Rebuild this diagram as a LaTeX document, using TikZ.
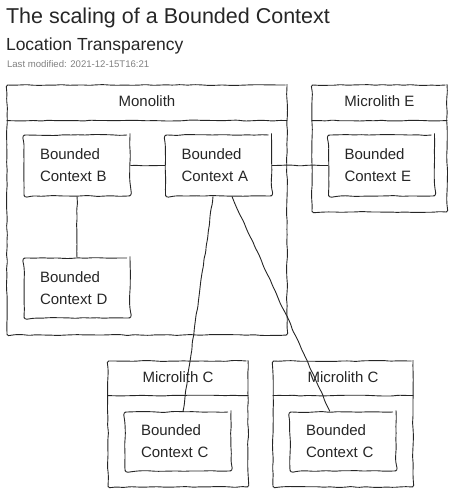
\documentclass[tikz,border=0pt]{standalone}
\usepackage{fontspec}
\setmainfont{Liberation Sans}
\usetikzlibrary{positioning}
\usetikzlibrary{decorations.pathmorphing}
\usetikzlibrary{calc}
\definecolor{ink}{HTML}{262626}
\tikzset{
  sketch/.style={draw=ink,line width=0.9pt,decorate,
    decoration={random steps,segment length=7pt,amplitude=0.5pt},rounded corners=1.5pt},
  pkg/.style={sketch,inner sep=0pt},
  bc/.style={sketch,minimum width=106pt,minimum height=61pt,align=left,
    text width=74pt,inner xsep=16pt,
    font=\fontsize{15}{22}\selectfont,text=ink,rounded corners=3pt},
  pkgtitle/.style={font=\fontsize{15}{18}\selectfont,text=ink}
}
\begin{document}
\begin{tikzpicture}[x=1pt,y=-1pt]
\useasboundingbox (0,0) rectangle (456,493);
\pgfmathsetseed{11}
% title block
\node[anchor=west,font=\fontsize{21.5}{24}\selectfont,text=ink] (title) at (2.5,18) {The scaling of a Bounded Context};
\node[anchor=west,font=\fontsize{17.5}{20}\selectfont,text=ink] (subtitle) at (2.5,46) {Location Transparency};
\node[anchor=west,font=\fontsize{9.6}{11}\selectfont,text=gray] (modified) at (3.5,64) {Last modified: 2021-12-15T16:21};
% containers
\node[pkg,minimum width=280pt,minimum height=250pt] (mono) at (147,210) {};
\node[pkg,minimum width=135pt,minimum height=127pt] (microE) at (379.5,148.5) {};
\node[pkg,minimum width=140pt,minimum height=126pt] (microCl) at (178,424) {};
\node[pkg,minimum width=140pt,minimum height=126pt] (microCr) at (343,424) {};
\foreach \p/\t/\d in {mono/Monolith/36,microE/Microlith E/36,microCl/Microlith C/35,microCr/Microlith C/35}{
  \node[pkgtitle] (\p T) at ([yshift=-17pt]\p.north) {\t};
  \draw[sketch] ([yshift=-\d pt]\p.north west) -- ([yshift=-\d pt]\p.north east);
}
% bounded contexts
\node[bc] (bcB) at (77,165.5) {Bounded\\Context B};
\node[bc] (bcA) at (218.5,165.5) {Bounded\\Context A};
\node[bc] (bcE) at (381.5,165.5) {Bounded\\Context E};
\node[bc,minimum height=60pt] (bcD) at (77,288) {Bounded\\Context D};
\node[bc,minimum height=59pt] (bcCl) at (178,441.5) {Bounded\\Context C};
\node[bc,minimum height=59pt] (bcCr) at (343,441.5) {Bounded\\Context C};
% connectors
\draw[sketch] (bcB) -- (bcA);
\draw[sketch] (bcA) -- (bcE);
\draw[sketch] (bcB) -- (bcD);
\draw[sketch] ([xshift=-5.5pt]bcA.south) -- ([xshift=5pt]bcCl.north);
\draw[sketch] ([xshift=13.5pt]bcA.south) -- ([xshift=-13pt]bcCr.north);
\end{tikzpicture}
\end{document}
